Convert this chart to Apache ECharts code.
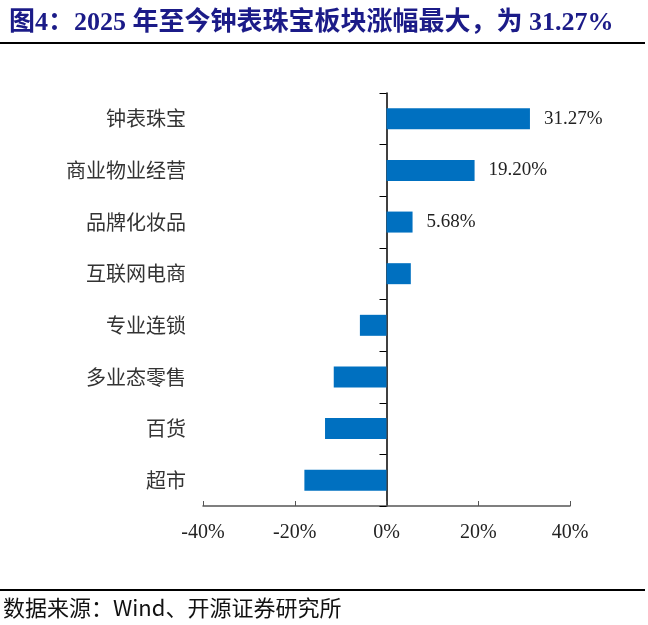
<!DOCTYPE html>
<html>
<head>
<meta charset="utf-8">
<script src="https://cdn.jsdelivr.net/npm/echarts@6/dist/echarts.min.js"></script>
<style>
html,body{margin:0;padding:0;background:#fff;}
#chart{width:648px;height:625px;}
</style>
</head>
<body>
<div id="chart"></div>
<script>
var titleText = '图4：2025 年至今钟表珠宝板块涨幅最大，为 31.27%';
var sourceText = '数据来源：Wind、开源证券研究所';
var categories = ['钟表珠宝', '商业物业经营', '品牌化妆品', '互联网电商', '专业连锁', '多业态零售', '百货', '超市'];
var values = [31.27, 19.20, 5.68, 5.3, -5.8, -11.5, -13.4, -17.9];
var showLabel = [true, true, true, false, false, false, false, false];
var xTicks = { min: -40, max: 40, interval: 20 };

var serif = '"Liberation Serif", "Noto Sans CJK SC", serif';
var cjk = '"Noto Sans CJK SC", "Liberation Serif", sans-serif';

var chart = echarts.init(document.getElementById('chart'));
chart.setOption({
  backgroundColor: '#fff',
  animation: false,
  title: {
    text: titleText,
    left: 4,
    top: 5,
    textStyle: { fontFamily: serif, fontWeight: 'bold', fontSize: 26, color: '#1b1b88' }
  },
  graphic: [
    { type: 'rect', shape: { x: 0, y: 42, width: 645, height: 2 }, style: { fill: '#000' } },
    { type: 'rect', shape: { x: 0, y: 589, width: 645, height: 2 }, style: { fill: '#000' } },
    { type: 'text', left: 3, top: 597, style: { text: sourceText, font: '22px ' + cjk, fill: '#111' } }
  ],
  grid: { left: 203, right: 78, top: 93, bottom: 119, containLabel: false, outerBoundsMode: 'none' },
  xAxis: {
    type: 'value',
    min: xTicks.min, max: xTicks.max, interval: xTicks.interval,
    splitLine: { show: false },
    axisLine: { show: true, lineStyle: { color: '#555', width: 1.5 } },
    axisTick: { show: true, inside: true, length: 5, lineStyle: { color: '#555' } },
    axisLabel: { formatter: '{value}%', fontFamily: serif, fontSize: 20, color: '#222', margin: 17 }
  },
  yAxis: {
    type: 'category',
    inverse: true,
    data: categories,
    axisLine: { show: true, onZero: true, lineStyle: { color: '#000', width: 1.5 } },
    axisTick: { show: true, length: 7, lineStyle: { color: '#000' } },
    axisLabel: { margin: 17, fontFamily: cjk, fontSize: 20, color: '#333' }
  },
  series: [{
    type: 'bar',
    barWidth: 21,
    itemStyle: { color: '#0070C0' },
    data: values.map(function (v, i) {
      return {
        value: v,
        label: {
          show: showLabel[i],
          position: 'right',
          distance: 14,
          formatter: function (p) { return p.value.toFixed(2) + '%'; },
          fontFamily: serif, fontSize: 19, color: '#222'
        }
      };
    })
  }]
});
</script>
</body>
</html>
